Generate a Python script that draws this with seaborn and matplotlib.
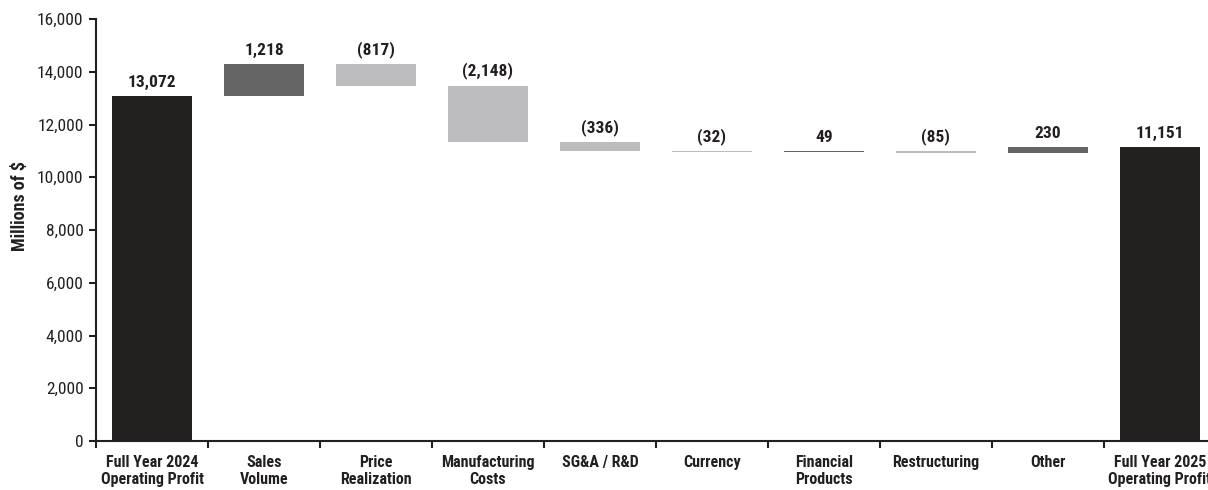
import numpy as np
import pandas as pd
import seaborn as sns
import matplotlib.pyplot as plt

# waterfall steps, millions of $
categories = ["Full Year 2024\nOperating Profit", "Sales\nVolume", "Price\nRealization",
              "Manufacturing\nCosts", "SG&A / R&D", "Currency", "Financial\nProducts",
              "Restructuring", "Other", "Full Year 2025\nOperating Profit"]
deltas = [13072, 1218, -817, -2148, -336, -32, 49, -85, 230, 11151]
kinds = ["total", "up", "down", "down", "down", "down", "up", "down", "up", "total"]

palette = {"total": "#231f20", "up": "#656565", "down": "#bcbdc0"}

# running totals -> bar bottoms / tops
bottoms, tops = [], []
level = 0
for d, k in zip(deltas, kinds):
    if k == "total":
        bottoms.append(0)
        tops.append(d)
        level = d
    else:
        new = level + d
        bottoms.append(min(level, new))
        tops.append(max(level, new))
        level = new

df = pd.DataFrame({"step": categories, "height": np.abs(deltas), "kind": kinds,
                   "bottom": bottoms, "top": tops})

sns.set_style("white")
plt.rcParams["font.family"] = ["Roboto Condensed", "Roboto", "DejaVu Sans"]
ink = "#231f20"

fig = plt.figure(figsize=(12.08, 4.9), dpi=100)
ax = fig.add_axes([0.0795, 0.1, 0.927, 0.861])

sns.barplot(data=df, x="step", y="height", hue="step",
            palette=[palette[k] for k in kinds], width=0.72,
            linewidth=0, legend=False, ax=ax)

# lift each bar onto its running total
for cont, b in zip(ax.containers, df["bottom"]):
    for p in cont.patches:
        p.set_y(b)

for i, row in df.iterrows():
    d = deltas[i]
    lab = f"({abs(d):,})" if d < 0 else f"{d:,}"
    ax.annotate(lab, (i, row["top"]), xytext=(0, 4.5), textcoords="offset points",
                ha="center", va="bottom", fontsize=12.5, fontweight="bold",
                color=ink)

ax.set_xlim(-0.5, 9.5)
ax.set_ylim(0, 16000)
ax.set_yticks(range(0, 16001, 2000))
ax.yaxis.set_major_formatter(plt.FuncFormatter(lambda v, _: f"{v:,.0f}"))
ax.set_xticks(np.arange(-0.5, 10, 1), minor=True)
ax.tick_params(axis="x", which="major", length=0, pad=10, labelsize=11.5,
               colors=ink)
ax.tick_params(axis="x", which="minor", length=5, width=1.5, direction="out",
               color=ink, bottom=True)
ax.tick_params(axis="y", length=5, width=1.5, direction="out", left=True,
               labelsize=12.5, colors=ink, pad=4)
for t in ax.get_xticklabels():
    t.set_fontweight("bold")
    t.set_linespacing(1.2)

ax.set_xlabel("")
ax.set_ylabel("Millions of $", fontsize=13, fontweight="bold", color=ink)
ax.yaxis.set_label_coords(-0.060, 0.557)

for s in ["top", "right"]:
    ax.spines[s].set_visible(False)
for s in ["left", "bottom"]:
    ax.spines[s].set_color(ink)
    ax.spines[s].set_linewidth(1.5)

fig.savefig("out.png", dpi=100)
